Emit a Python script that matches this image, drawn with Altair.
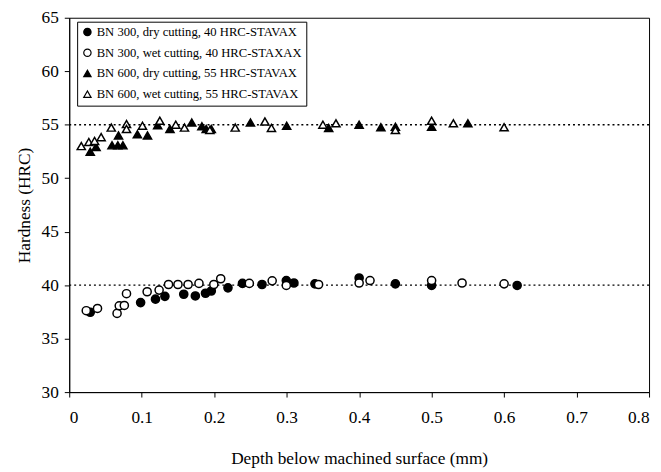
import altair as alt
import pandas as pd

series_names = [
    "BN 300, dry cutting, 40 HRC-STAVAX",
    "BN 300, wet cutting, 40 HRC-STAXAX",
    "BN 600, dry cutting, 55 HRC-STAVAX",
    "BN 600, wet cutting, 55 HRC-STAVAX",
]

dry300_x = [0.029, 0.0985, 0.119, 0.132, 0.158, 0.174, 0.188, 0.196, 0.219, 0.239, 0.266, 0.2995, 0.31, 0.339, 0.40, 0.45, 0.50, 0.618]
dry300_y = [37.46, 38.37, 38.69, 38.95, 39.15, 38.99, 39.24, 39.45, 39.75, 40.16, 40.06, 40.43, 40.2, 40.12, 40.67, 40.12, 39.97, 39.97]

wet300_x = [0.0235, 0.039, 0.066, 0.069, 0.076, 0.079, 0.1075, 0.124, 0.137, 0.150, 0.164, 0.179, 0.1995, 0.209, 0.2485, 0.280, 0.2995, 0.344, 0.40, 0.415, 0.50, 0.542, 0.60]
wet300_y = [37.61, 37.82, 37.36, 38.07, 38.1, 39.2, 39.38, 39.54, 40.06, 40.06, 40.06, 40.16, 40.06, 40.6, 40.16, 40.4, 39.97, 40.06, 40.2, 40.43, 40.43, 40.2, 40.12]

dry600_x = [0.029, 0.037, 0.059, 0.068, 0.067, 0.074, 0.094, 0.108, 0.122, 0.139, 0.169, 0.183, 0.189, 0.196, 0.25, 0.30, 0.358, 0.40, 0.43, 0.45, 0.50, 0.55]
dry600_y = [52.47, 52.92, 53.07, 53.99, 53.07, 53.07, 54.1, 53.99, 54.95, 54.6, 55.2, 54.85, 54.6, 54.6, 55.2, 54.9, 54.7, 55.0, 54.76, 54.8, 54.8, 55.13]

wet600_x = [0.0166, 0.027, 0.035, 0.044, 0.058, 0.079, 0.079, 0.101, 0.125, 0.147, 0.159, 0.194, 0.229, 0.27, 0.279, 0.35, 0.368, 0.45, 0.50, 0.53, 0.60]
wet600_y = [53.0, 53.38, 53.48, 53.84, 54.73, 55.06, 54.6, 54.9, 55.37, 55.0, 54.73, 54.5, 54.73, 55.3, 54.7, 55.0, 55.13, 54.5, 55.37, 55.13, 54.76]

ref_levels = [40, 55]
x_ticks = [0, 0.1, 0.2, 0.3, 0.4, 0.5, 0.6, 0.7, 0.8]
y_ticks = [30, 35, 40, 45, 50, 55, 60, 65]

rows = []
for name, xs, ys in zip(series_names,
                        [dry300_x, wet300_x, dry600_x, wet600_x],
                        [dry300_y, wet300_y, dry600_y, wet600_y]):
    for xv, yv in zip(xs, ys):
        rows.append({"series": name, "depth": xv, "hardness": yv})
df = pd.DataFrame(rows)
ref_df = pd.DataFrame({"level": ref_levels})

FONT = "Liberation Serif"

x_enc = alt.X("depth:Q", scale=alt.Scale(domain=[0, 0.8], nice=False),
              axis=alt.Axis(values=x_ticks, format="~g", labelFont=FONT,
                            title="Depth below machined surface (mm)"))
y_enc = alt.Y("hardness:Q", scale=alt.Scale(domain=[30, 65], nice=False, zero=False),
              axis=alt.Axis(values=y_ticks, labelFont=FONT, title="Hardness (HRC)"))

legend = alt.Legend(
    title=None, orient="none", legendX=8, legendY=4,
    strokeColor="black", padding=4, fillColor="white",
    labelFont=FONT, labelFontSize=12.8, labelColor="black", labelLimit=0,
    rowPadding=7, symbolSize=55, symbolStrokeWidth=1.2,
    labelOffset=3,
)

rules = alt.Chart(ref_df).mark_rule(color="black", strokeDash=[2, 3], strokeWidth=1.4).encode(
    y=alt.Y("level:Q", scale=alt.Scale(domain=[30, 65], nice=False, zero=False))
)

points = alt.Chart(df).mark_point(strokeWidth=1.5, opacity=1, fillOpacity=1, strokeOpacity=1, size=68).encode(
    x=x_enc,
    y=y_enc,
    shape=alt.Shape("series:N", scale=alt.Scale(domain=series_names,
                    range=["circle", "circle", "triangle-up", "triangle-up"]), legend=legend),
    fill=alt.Fill("series:N", scale=alt.Scale(domain=series_names,
                  range=["black", "white", "black", "white"]), legend=legend),
    stroke=alt.Stroke("series:N", scale=alt.Scale(domain=series_names,
                      range=["black", "black", "black", "black"]), legend=legend),
)

chart = alt.layer(rules, points).properties(
    width=587, height=379,
    autosize=alt.AutoSizeParams(type="none"),
    padding={"left": 62, "top": 7, "right": 4, "bottom": 76},
).configure_view(
    stroke="black", strokeWidth=1
).configure_axis(
    grid=False, labelFont=FONT, titleFont=FONT, labelFontSize=17.5, titleFontSize=17.5,
    titleFontWeight="normal", labelColor="black", titleColor="black",
    domainColor="black", tickColor="black", tickSize=5,
).configure_axisX(
    labelPadding=12, titlePadding=24,
).configure_axisY(
    labelPadding=6, titlePadding=8,
)

chart.save("out.html", embed_options={"renderer": "svg", "actions": False})
